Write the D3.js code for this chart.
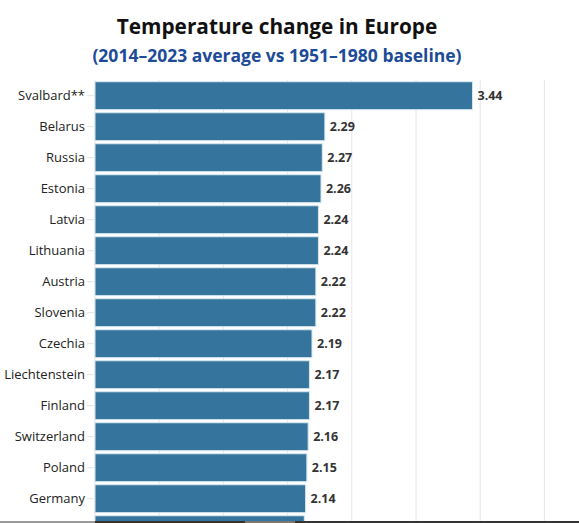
<!DOCTYPE html>
<html>
<head>
<meta charset="utf-8">
<script src="https://cdn.jsdelivr.net/npm/d3@7"></script>
<style>
  html, body { margin: 0; padding: 0; background: #fff; overflow: hidden; }
  svg { display: block; font-family: "Open Sans", sans-serif; }
</style>
</head>
<body>
<svg id="chart" width="579" height="523"></svg>
<script>
const countries = ["Svalbard**", "Belarus", "Russia", "Estonia", "Latvia", "Lithuania", "Austria", "Slovenia", "Czechia", "Liechtenstein", "Finland", "Switzerland", "Poland", "Germany", "Slovakia"];
const values = [3.44, 2.29, 2.27, 2.26, 2.24, 2.24, 2.22, 2.22, 2.19, 2.17, 2.17, 2.16, 2.15, 2.14, 2.13];
const gridTicks = [0.5, 1, 1.5, 2, 2.5, 3, 3.5, 4, 4.5];
const titleText = "Temperature change in Europe";
const subtitleText = "(2014–2023 average vs 1951–1980 baseline)";

const data = countries.map((c, i) => ({ country: c, value: values[i] }));
const svg = d3.select("#chart");
const W = 579, H = 523;

const x = d3.scaleLinear().domain([0.5, 4.5]).range([95, 608.6]);
const y = d3.scaleBand().domain(countries).range([80.2, 80.2 + 31 * countries.length]).paddingInner(0.1).paddingOuter(0.05);
// rows whose labels fall inside the visible window
const visible = d => y(d) + y.bandwidth() / 2 < H - 10;

// gridlines
svg.append("g").selectAll("line").data(gridTicks).join("line")
  .attr("x1", d => x(d)).attr("x2", d => x(d))
  .attr("y1", 80).attr("y2", H)
  .attr("stroke", "#e6e6e6").attr("stroke-width", 1);

// left axis
const yAxis = d3.axisLeft(y).tickValues(countries.filter(visible)).tickSize(7).tickPadding(2);
const ga = svg.append("g").attr("transform", `translate(${x(0.5) - 1},0)`).call(yAxis);
ga.select(".domain").remove();
ga.selectAll(".tick line").attr("stroke", "#e3e3e3");
ga.selectAll(".tick text").attr("fill", "#222").attr("font-size", 13)
  .attr("font-family", "'Open Sans', sans-serif");

// bars
svg.append("g").selectAll("rect").data(data).join("rect")
  .attr("x", x(0.5))
  .attr("y", d => y(d.country))
  .attr("width", d => x(d.value) - x(0.5))
  .attr("height", y.bandwidth())
  .attr("fill", "#2a6e98")
  .attr("fill-opacity", 0.95)
  .attr("stroke", "#d6e6f0")
  .attr("stroke-width", 1);

// value labels
svg.append("g").selectAll("text").data(data.filter(d => visible(d.country))).join("text")
  .attr("x", d => x(d.value) + 5)
  .attr("y", d => y(d.country) + y.bandwidth() / 2)
  .attr("dy", "0.35em")
  .attr("font-size", 12.5)
  .attr("font-weight", 700)
  .attr("fill", "#333")
  .text(d => d.value.toFixed(2));

// titles
svg.append("text").attr("x", 277).attr("y", 34)
  .attr("text-anchor", "middle").attr("font-size", 20.8).attr("font-weight", 700)
  .attr("fill", "#111").text(titleText);
svg.append("text").attr("x", 277).attr("y", 62)
  .attr("text-anchor", "middle").attr("font-size", 17.5).attr("font-weight", 700)
  .attr("fill", "#1c4b97").text(subtitleText);

// bottom bar (scrollbar-like edge)
svg.append("rect").attr("x", 0).attr("y", 521).attr("width", 95).attr("height", 2).attr("fill", "#9a9a9a");
svg.append("rect").attr("x", 95).attr("y", 521).attr("width", W - 95).attr("height", 2).attr("fill", "#333");
svg.append("rect").attr("x", 245).attr("y", 521).attr("width", 50).attr("height", 2).attr("fill", "#777");
</script>
</body>
</html>
